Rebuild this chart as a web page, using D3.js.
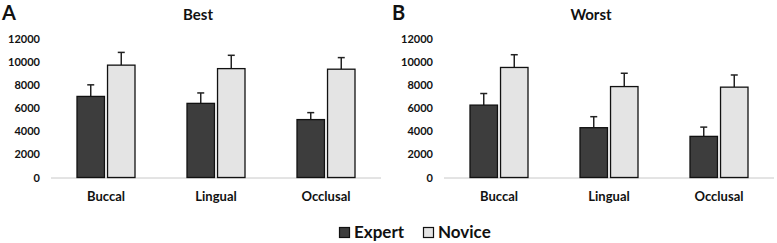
<!DOCTYPE html>
<html><head><meta charset="utf-8">
<script src="https://cdn.jsdelivr.net/npm/d3@7"></script>
<style>body{margin:0;background:#fff}svg{display:block}text{font-family:Lato,"Open Sans",sans-serif;font-weight:bold;fill:#111}</style>
</head><body><svg id="c" width="777" height="243"></svg>
<script>
const categories = ["Buccal","Lingual","Occlusal"];
const seriesNames = ["Expert","Novice"];
const panels = ["Best","Worst"];
const panelLetters = ["A","B"];
const bestExpert = [7000,6400,5000];
const bestExpertErr = [1000,900,600];
const bestNovice = [9700,9400,9350];
const bestNoviceErr = [1100,1150,1000];
const worstExpert = [6250,4300,3550];
const worstExpertErr = [1000,950,800];
const worstNovice = [9500,7850,7800];
const worstNoviceErr = [1100,1150,1050];
const yTicks = [0,2000,4000,6000,8000,10000,12000];

const data = [
  {expert: bestExpert, expertErr: bestExpertErr, novice: bestNovice, noviceErr: bestNoviceErr},
  {expert: worstExpert, expertErr: worstExpertErr, novice: worstNovice, noviceErr: worstNoviceErr}
];
const fills = {Expert:"#3d3d3d", Novice:"#e4e4e4"};

const svg = d3.select("#c");
const offsets = [{x0:51,x1:381},{x0:444,x1:774}];
const y = d3.scaleLinear().domain([0,12000]).range([177.5,38.5]);

panels.forEach((title,pi)=>{
  const o = offsets[pi];
  const g = svg.append("g");
  const x0 = d3.scaleBand().domain(categories).range([o.x0,o.x1]);
  const x1 = d3.scaleBand().domain(seriesNames).range([0,58]).paddingInner(0.1);
  const ya = d3.axisLeft(y).tickValues(yTicks).tickFormat(d3.format("d")).tickSize(0).tickPadding(0);
  g.append("g").attr("transform",`translate(${o.x0-11},0)`).call(ya)
    .call(s=>s.select(".domain").remove())
    .selectAll("text").attr("font-size","11px").attr("font-family","Lato").attr("font-weight","bold").attr("fill","#111");
  g.append("line").attr("x1",o.x0).attr("x2",o.x1).attr("y1",y(0)+0.5).attr("y2",y(0)+0.5).attr("stroke","#c8c8c8").attr("stroke-width",1);
  const xa = d3.axisBottom(x0).tickSize(0).tickPadding(0);
  g.append("g").attr("transform",`translate(0,${y(0)+14})`).call(xa)
    .call(s=>s.select(".domain").remove())
    .selectAll("text").attr("font-size","13px").attr("font-family","Lato").attr("font-weight","bold").attr("fill","#111");
  const d = data[pi];
  categories.forEach((c,ci)=>{
    const gx = x0(c) + (x0.bandwidth()-58)/2;
    seriesNames.forEach(sn=>{
      const v = sn==="Expert"? d.expert[ci] : d.novice[ci];
      const e = sn==="Expert"? d.expertErr[ci] : d.noviceErr[ci];
      const bx = gx + x1(sn), bw = x1.bandwidth();
      const cx = bx + bw/2;
      g.append("line").attr("x1",cx).attr("x2",cx).attr("y1",y(v)).attr("y2",y(v+e)).attr("stroke","#222").attr("stroke-width",1.5);
      g.append("line").attr("x1",cx-3.5).attr("x2",cx+3.5).attr("y1",y(v+e)).attr("y2",y(v+e)).attr("stroke","#222").attr("stroke-width",1.5);
      g.append("rect").attr("x",bx).attr("y",y(v)).attr("width",bw).attr("height",y(0)-y(v))
        .attr("fill",fills[sn]).attr("stroke","#111").attr("stroke-width",1.3);
    });
  });
  g.append("text").attr("x",(o.x0+o.x1)/2-18).attr("y",20).attr("text-anchor","middle").attr("font-size","15px").text(title);
  g.append("text").attr("x",pi?392:2).attr("y",20).attr("font-size","20px").attr("font-weight","900").text(panelLetters[pi]);
});

const lg = svg.append("g");
const legX = [339,423];
seriesNames.forEach((sn,i)=>{
  lg.append("rect").attr("x",legX[i]+0.5).attr("y",227.5).attr("width",10).attr("height",10).attr("fill",fills[sn]).attr("stroke","#111").attr("stroke-width",1.2);
  lg.append("text").attr("x",legX[i]+15).attr("y",238).attr("font-size","17px").text(sn);
});
</script></body></html>
